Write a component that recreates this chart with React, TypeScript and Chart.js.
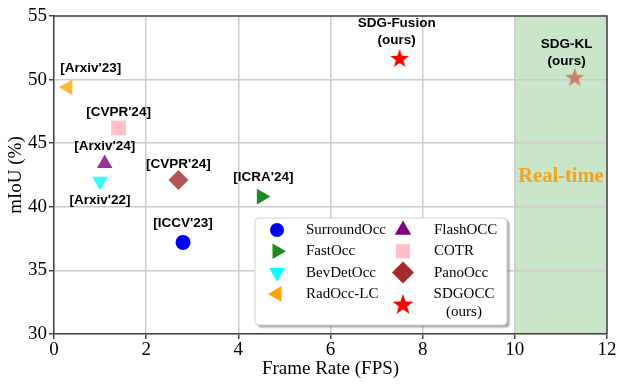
import React, { useEffect, useRef } from "react";
import { Chart, registerables } from "chart.js";
import { drawPoint } from "chart.js/helpers";

Chart.register(...registerables);

const methods = ["SurroundOcc", "FastOcc", "BevDetOcc", "RadOcc-LC", "FlashOCC", "COTR", "PanoOcc", "SDG-Fusion", "SDG-KL"];
const fps = [2.8, 4.5, 1.0, 0.3, 1.1, 1.4, 2.7, 7.5, 11.3];
const miou = [37.2, 40.8, 42.0, 49.4, 43.4, 46.2, 42.1, 51.7, 50.2];
const venues = ["[ICCV'23]", "[ICRA'24]", "[Arxiv'22]", "[Arxiv'23]", "[Arxiv'24]", "[CVPR'24]", "[CVPR'24]", "SDG-Fusion\n(ours)", "SDG-KL\n(ours)"];
const legendLabels = ["SurroundOcc", "FastOcc", "BevDetOcc", "RadOcc-LC", "FlashOCC", "COTR", "PanoOcc", "SDGOCC\n(ours)"];
const xTicks = [0, 2, 4, 6, 8, 10, 12];
const yTicks = [30, 35, 40, 45, 50, 55];
const realtimeStart = 10;

// styles
const plotColors = ["#0000ff", "#1f8b1f", "rgba(0,255,255,0.8)", "rgba(255,165,0,0.8)", "rgba(128,0,128,0.8)", "#ffc0cb", "rgba(165,42,42,0.8)", "#ff0000", "rgba(200,120,90,0.9)"];
const legendColors = ["#0000ff", "#1f8b1f", "#00ffff", "#ffa500", "#800080", "#ffc0cb", "#a52a2a", "#ff0000"];
const styles = ["circle", "triangle", "triangle", "triangle", "triangle", "rect", "rectRot", "star", "star"];
const rotations = [0, 90, 180, 270, 0, 0, 0, 0, 0];
const radii = [7.5, 9, 9, 9, 9, 10.5, 10, 10, 10];
const labelOffsets: [number, number][] = [[0, -19], [2, -19], [0, 19], [23, -19], [0, -17], [0, -16], [0, -16], [-3, -35], [-8, -33]];

function makeStar(r: number, color: string) {
  const c = document.createElement("canvas");
  const s = Math.ceil(2 * r + 2);
  c.width = s;
  c.height = s;
  const ctx = c.getContext("2d")!;
  const cx = s / 2, cy = s / 2 + r * 0.1;
  ctx.beginPath();
  for (let i = 0; i < 10; i++) {
    const rr = i % 2 === 0 ? r : r * 0.4;
    const a = -Math.PI / 2 + (i * Math.PI) / 5;
    const x = cx + rr * Math.cos(a), y = cy + rr * Math.sin(a);
    if (i === 0) ctx.moveTo(x, y); else ctx.lineTo(x, y);
  }
  ctx.closePath();
  ctx.fillStyle = color;
  ctx.fill();
  return c;
}

export default function App() {
  const ref = useRef<HTMLCanvasElement>(null);
  useEffect(() => {
    const canvas = ref.current!;
    const pointStyleFor = (i: number, color: string, r: number) =>
      styles[i] === "star" ? makeStar(r, color) : styles[i];

    const datasets = methods.map((m, i) => ({
      label: m,
      data: [{ x: fps[i], y: miou[i] }],
      pointStyle: pointStyleFor(i, plotColors[i], radii[i]) as any,
      rotation: rotations[i],
      radius: radii[i],
      backgroundColor: plotColors[i],
      borderWidth: 0,
      borderColor: "rgba(0,0,0,0)",
    }));

    const bgPlugin = {
      id: "bg",
      beforeDraw(chart: any) {
        const { ctx, chartArea, scales } = chart;
        const x0 = scales.x.getPixelForValue(realtimeStart);
        ctx.save();
        ctx.fillStyle = "#c9e6c9";
        ctx.fillRect(x0, chartArea.top, chartArea.right - x0, chartArea.bottom - chartArea.top);
        ctx.restore();
      },
      afterDatasetsDraw(chart: any) {
        const { ctx, chartArea, scales } = chart;
        ctx.save();
        // border top/right
        ctx.strokeStyle = "#444";
        ctx.lineWidth = 1.5;
        ctx.beginPath();
        ctx.moveTo(chartArea.left, chartArea.top);
        ctx.lineTo(chartArea.right, chartArea.top);
        ctx.lineTo(chartArea.right, chartArea.bottom);
        ctx.stroke();
        // Real-time
        const x0 = scales.x.getPixelForValue(realtimeStart);
        ctx.fillStyle = "#f5a31a";
        ctx.font = "bold 20.5px 'Liberation Serif'";
        ctx.textAlign = "center";
        ctx.textBaseline = "middle";
        ctx.fillText("Real-time", (x0 + chartArea.right) / 2, scales.y.getPixelForValue(42.4));
        // annotations
        ctx.fillStyle = "#000";
        ctx.font = "bold 13.5px 'Liberation Sans'";
        venues.forEach((v, i) => {
          const px = scales.x.getPixelForValue(fps[i]) + labelOffsets[i][0];
          const py = scales.y.getPixelForValue(miou[i]) + labelOffsets[i][1];
          v.split("\n").forEach((line, k) => ctx.fillText(line, px, py + k * 17));
        });
        ctx.restore();
      },
      afterDraw(chart: any) {
        const { ctx } = chart;
        const bx = 255, by = 218, bw = 252, bh = 107;
        ctx.save();
        ctx.shadowColor = "rgba(0,0,0,0.35)";
        ctx.shadowOffsetX = 2.5;
        ctx.shadowOffsetY = 2.5;
        ctx.shadowBlur = 2;
        ctx.fillStyle = "#fff";
        ctx.beginPath();
        (ctx as any).roundRect(bx, by, bw, bh, 4);
        ctx.fill();
        ctx.shadowColor = "transparent";
        ctx.strokeStyle = "#d0d0d0";
        ctx.lineWidth = 1;
        ctx.stroke();
        const legendRadii = [7, 9, 9, 9, 9.5, 10, 11, 11];
        legendLabels.forEach((lab, i) => {
          const col = Math.floor(i / 4), row = i % 4;
          const mx = col === 0 ? 277 : 403;
          const tx = col === 0 ? 306 : 434;
          const multi = lab.includes("\n");
          const my = 230 + row * 21.3 + (multi ? 10 : 0);
          ctx.fillStyle = legendColors[i];
          drawPoint(ctx, {
            pointStyle: pointStyleFor(i, legendColors[i], legendRadii[i]),
            rotation: rotations[i],
            radius: legendRadii[i],
            borderWidth: 0,
          } as any, mx, my);
          ctx.fillStyle = "#000";
          ctx.font = "15px 'Liberation Serif'";
          ctx.textBaseline = "middle";
          if (multi) {
            ctx.textAlign = "center";
            lab.split("\n").forEach((line, k) => ctx.fillText(line, 464, 230 + row * 21.3 + k * 18));
          } else {
            ctx.textAlign = "left";
            ctx.fillText(lab, tx, 230 + row * 21.3);
          }
        });
        ctx.restore();
      },
    };

    const tickFont = { family: "'Liberation Serif'", size: 19 };
    const chart = new Chart(canvas, {
      type: "scatter",
      data: { datasets },
      options: {
        animation: false,
        responsive: false,
        layout: { padding: { left: 0, top: 16, right: 14, bottom: 0 } },
        plugins: { legend: { display: false }, tooltip: { enabled: false } },
        scales: {
          x: {
            type: "linear",
            min: 0,
            max: 12,
            afterBuildTicks: (s: any) => { s.ticks = xTicks.map((v) => ({ value: v })); },
            afterFit: (s: any) => { s.height = 50; },
            ticks: { color: "#000", font: tickFont, padding: 0, maxRotation: 0 },
            grid: { color: "#cccccc", lineWidth: 1.5, tickColor: "#444", tickLength: 5 },
            border: { color: "#444", width: 1.5 },
            title: { display: true, text: "Frame Rate (FPS)", color: "#000", font: tickFont, padding: { top: 0 } },
          },
          y: {
            type: "linear",
            min: 30,
            max: 55,
            afterBuildTicks: (s: any) => { s.ticks = yTicks.map((v) => ({ value: v })); },
            afterFit: (s: any) => { s.width = 54; },
            ticks: { color: "#000", font: tickFont, padding: 2 },
            grid: { color: "#cccccc", lineWidth: 1.5, tickColor: "#444", tickLength: 5 },
            border: { color: "#444", width: 1.5 },
            title: { display: true, text: "mIoU (%)", color: "#000", font: tickFont, padding: { top: 5, bottom: 0 } },
          },
        },
      },
      plugins: [bgPlugin],
    } as any);
    return () => chart.destroy();
  }, []);
  return (
    <div style={{ position: "fixed", left: 0, top: 0, width: 621, height: 384, background: "#fff" }}>
      <canvas ref={ref} width={621} height={384} />
    </div>
  );
}
